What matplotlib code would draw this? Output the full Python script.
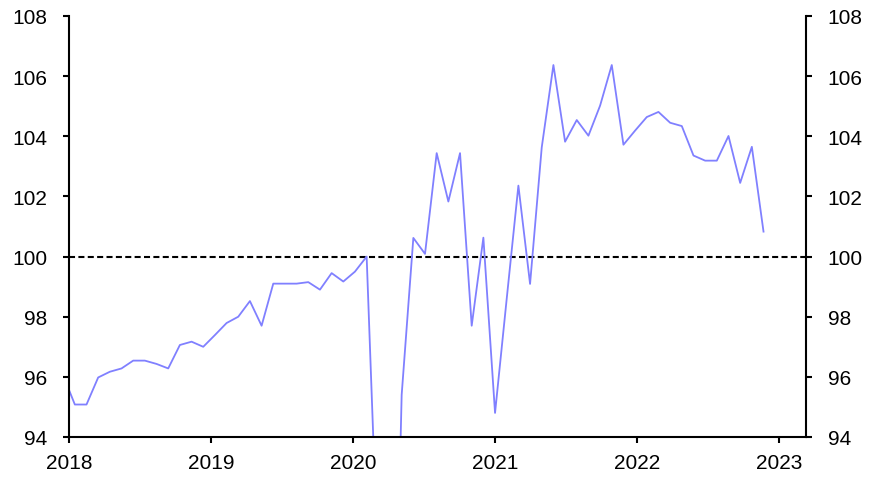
import numpy as np
import matplotlib
matplotlib.use('Agg')
import matplotlib.pyplot as plt

plt.rcParams['font.family'] = ['Liberation Sans', 'DejaVu Sans']

# monthly index values, first point sits just left of the axis and gets clipped
values = [96.05, 95.08, 95.08, 95.98, 96.17, 96.28, 96.54, 96.54, 96.43, 96.28,
          97.06, 97.17, 97.00, 97.39, 97.79, 98.00, 98.52, 97.70, 99.10, 99.10,
          99.10, 99.15, 98.90, 99.45, 99.17, 99.50, 100.00, 89.40, 79.00, 95.40,
          100.62, 100.09, 103.44, 101.83, 103.44, 97.70, 100.63, 94.80, 98.60, 102.36,
          99.09, 103.63, 106.37, 103.82, 104.54, 104.02, 105.02, 106.37, 103.72, 104.19,
          104.64, 104.81, 104.45, 104.34, 103.36, 103.19, 103.19, 104.01, 102.45, 103.65,
          100.83]
years = ['2018', '2019', '2020', '2021', '2022', '2023']
y_ticks = [94, 96, 98, 100, 102, 104, 106, 108]
baseline = 100

PTS_PER_YEAR = 12.17
x = np.arange(len(values))
year_pos = 0.5 + PTS_PER_YEAR*np.arange(len(years))

fig = plt.figure(figsize=(8.74, 4.81), dpi=100)
ax = fig.add_axes([69/874, 1-438/481, (806-69)/874, (438-17)/481])

ax.axhline(baseline, color='black', lw=1.5, dashes=(2.9, 1.6), zorder=1)
ax.plot(x, values, color='#8080ff', lw=1.3, zorder=2)

ax.set_xlim(0.5, 63.64)
ax.set_ylim(94, 108)
ax.set_xticks(year_pos)
ax.set_xticklabels(years)
ax.set_yticks(y_ticks)

ax.spines['top'].set_visible(False)
for s in ['left', 'right', 'bottom']:
    ax.spines[s].set_linewidth(1.5)

ax.tick_params(axis='y', which='both', direction='out', length=4.5, width=1.5,
               labelsize=15, left=True, right=True, labelleft=True, labelright=True, pad=11)
ax.tick_params(axis='x', direction='out', length=4.5, width=1.5, labelsize=15, pad=7)

fig.savefig('out.png', dpi=100)
